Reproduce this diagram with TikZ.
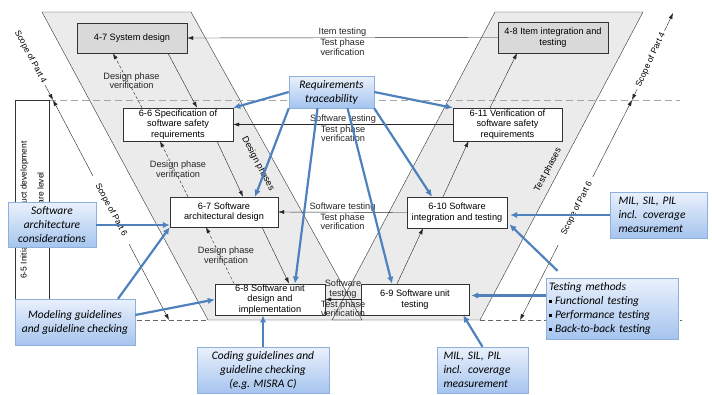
\documentclass[tikz,border=0pt]{standalone}
\usepackage{fontspec}
\setmainfont{Liberation Sans}
\newfontfamily\callfont{Carlito}
\usetikzlibrary{arrows.meta}
\definecolor{bandgray}{HTML}{EBEBEB}
\definecolor{boxgray}{HTML}{D9D9D9}
\definecolor{traceblue}{HTML}{4F81BD}
\definecolor{calltop}{HTML}{EAF1FC}
\definecolor{callbot}{HTML}{A5C4EE}
\definecolor{callline}{HTML}{8DB0DD}
\newcommand{\bul}{\rule[1.5pt]{3pt}{3pt}\hspace{3pt}}
\tikzset{
	vbox/.style={draw=black!80, fill=white, align=center, inner sep=1pt, font=\fontsize{9.2}{10.5}\selectfont},
	lbl/.style={align=center, inner sep=1pt, font=\fontsize{9.2}{9.5}\selectfont},
	scopelbl/.style={inner sep=0pt, font=\fontsize{8.5}{10}\selectfont},
	callout/.style={draw=callline, top color=calltop, bottom color=callbot, align=center, inner sep=3pt, font=\callfont\itshape\fontsize{11.5}{14}\selectfont},
	flow/.style={->, black!85},
	verif/.style={->, black!85, dash pattern=on 3pt off 2pt},
	tracearrow/.style={-{Latex[length=7pt,width=6.5pt]}, traceblue, line width=2.2pt},
	>={Latex[length=6pt,width=4pt]}
}
\begin{document}
\begin{tikzpicture}[x=1pt, y=-1pt]
	\useasboundingbox (0,0) rectangle (712,394);
	% design and test phases
	\fill[bandgray] (42,12) -- (191,12) -- (362,320) -- (208,320) -- cycle;
	\fill[bandgray] (495,12) -- (643,12) -- (480,320) -- (332,320) -- cycle;
	\draw[black!80] (42,12) -- (191,12) -- (362,320) -- (208,320) -- cycle;
	\draw[black!80] (495,12) -- (643,12) -- (480,320) -- (332,320) -- cycle;
	\draw[gray!70, line width=1pt, dash pattern=on 7pt off 4pt] (49,100) -- (680,100);
	\draw[black!60, dash pattern=on 5pt off 3pt] (49,320) -- (208,320) (480,320) -- (682,320);
	\node[draw=black!80, rotate=90, minimum width=220pt, minimum height=34pt, align=center, font=\fontsize{8.5}{17}\selectfont] (initbox) at (32,210) {6-5 Initiation of product development\\at the software level};
	\node[rotate=-62, font=\fontsize{9}{10}\selectfont] (dphases) at (258,164) {Design phases};
	\node[rotate=62, font=\fontsize{9}{10}\selectfont] (tphases) at (548,170) {Test phases};

	% scope arrows
	\coordinate (lscA) at (45,85);
	\coordinate (lscB) at (53,100);
	\coordinate (lscC) at (93,176);
	\coordinate (lscD) at (129,244);
	\coordinate (lscE) at (169,320);
	\node[scopelbl, rotate=-62] (lsc4) at (30.3,57) {Scope of Part 4};
	\node[scopelbl, rotate=-62] (lsc6) at (111,210) {Scope of Part 6};
	\draw[->, black!85] (lscA) -- (lscB);
	\draw[->, black!85] (lscC) -- (lscB);
	\draw[->, black!85] (lscD) -- (lscE);
	\coordinate (rscA) at (664.5,31);
	\coordinate (rscB) at (673,13);
	\coordinate (rscC) at (637.2,89);
	\coordinate (rscD) at (632,100);
	\coordinate (rscE) at (592.8,177);
	\coordinate (rscF) at (558.2,245);
	\coordinate (rscG) at (520,320);
	\node[scopelbl, rotate=65] (rsc4) at (650.8,60) {Scope of Part 4};
	\node[scopelbl, rotate=63] (rsc6) at (577,208) {Scope of Part 6};
	\draw[->, black!85] (rscA) -- (rscB);
	\draw[->, black!85] (rscC) -- (rscD);
	\draw[->, black!85] (rscE) -- (rscD);
	\draw[->, black!85] (rscF) -- (rscG);

	% V-model boxes
	\node[vbox, fill=boxgray, minimum width=110pt, minimum height=30pt] (sysdes) at (132,38) {4-7 System design};
	\node[vbox, fill=boxgray, minimum width=110pt, minimum height=31pt] (itemint) at (553,37.5) {4-8 Item integration and\\testing};
	\node[vbox, minimum width=110pt, minimum height=33pt] (swreq) at (178,124.5) {6-6 Specification of\\software safety\\requirements};
	\node[vbox, minimum width=109pt, minimum height=33pt] (swver) at (507.5,124.5) {6-11 Verification of\\software safety\\requirements};
	\node[vbox, minimum width=108pt, minimum height=30pt] (swarch) at (224,212) {6-7 Software\\architectural design};
	\node[vbox, minimum width=100pt, minimum height=31pt] (swint) at (457,212.5) {6-10 Software\\integration and testing};
	\node[vbox, minimum width=110pt, minimum height=31pt] (swunit) at (270,299.5) {6-8 Software unit\\design and\\implementation};
	\node[vbox, minimum width=108pt, minimum height=31pt] (swtest) at (415,299.5) {6-9 Software unit\\testing};

	% design phase
	\draw[flow] ([xshift=36pt]sysdes.south) -- ([xshift=19pt]swreq.north);
	\draw[flow] ([xshift=39pt]swreq.south) -- ([xshift=19pt]swarch.north);
	\draw[flow] ([xshift=38pt]swarch.south) -- ([xshift=19pt]swunit.north);
	\draw[verif] ([xshift=-36pt]swreq.north) -- ([xshift=-19pt]sysdes.south) node[lbl, midway, xshift=4pt] (dv1) {Design phase\\verification};
	\draw[verif] ([xshift=-36pt]swarch.north) -- ([xshift=-18pt]swreq.south) node[lbl, midway, xshift=4pt] (dv2) {Design phase\\verification};
	\draw[verif] ([xshift=-36pt]swunit.north) -- ([xshift=-18pt]swarch.south) node[lbl, midway, xshift=6pt] (dv3) {Design phase\\verification};

	% test phase
	\draw[flow] ([xshift=-18pt]swtest.north) -- ([xshift=-34pt]swint.south);
	\draw[flow] ([xshift=-14pt]swint.north) -- ([xshift=-39pt]swver.south);
	\draw[flow] ([xshift=-17.5pt]swver.north) -- ([xshift=-36pt]itemint.south);
	\draw[->, black!85] (itemint.west) -- (sysdes.east)
		node[lbl, midway, above] (itt) {Item testing}
		node[lbl, midway, below] (itv) {Test phase\\verification};
	\draw[->, black!85] (swver.west) -- (swreq.east)
		node[lbl, midway, above] (swt1) {Software testing}
		node[lbl, midway, below] (swv1) {Test phase\\verification};
	\draw[->, black!85] (swint.west) -- (swarch.east)
		node[lbl, midway, above] (swt2) {Software testing}
		node[lbl, midway, below] (swv2) {Test phase\\verification};
	\draw[->, black!85] (swtest.west) -- (swunit.east)
		node[lbl, midway, above] (swt3) {Software\\testing}
		node[lbl, midway, below] (swv3) {Test phase\\verification};

	% methods and tools
	\node[callout, minimum width=85pt, minimum height=32pt] (reqtrace) at (331.5,92) {Requirements\\traceability};
	\node[callout, minimum width=88pt, minimum height=45pt] (archcons) at (52,225) {Software\\architecture\\considerations};
	\node[callout, minimum width=120pt, minimum height=46pt] (modguide) at (75,322) {Modeling guidelines\\and guideline checking};
	\node[callout, minimum width=132pt, minimum height=46pt] (codguide) at (263,370) {Coding guidelines and\\guideline checking\\(e.g. MISRA C)};
	\node[callout, align=left, text width=78pt, minimum width=91pt, minimum height=46pt] (milbot) at (482.5,370) {MIL, SIL, PIL\\incl. coverage\\measurement};
	\node[callout, align=left, text width=80pt, minimum width=97pt, minimum height=46pt] (milright) at (658.5,215) {MIL, SIL, PIL\\incl. coverage\\measurement};
	\node[callout, align=left, text width=126pt, minimum width=132pt, minimum height=61pt] (testmeth) at (612,308.5) {Testing methods\\\bul Functional testing\\\bul Performance testing\\\bul Back-to-back testing};

	\draw[tracearrow] (reqtrace.west) -- (swreq.north east);
	\draw[tracearrow] (reqtrace.east) -- (swver.north west);
	\draw[tracearrow] (reqtrace.south west) -- ([xshift=31pt]swarch.north);
	\draw[tracearrow] ([xshift=-14pt]reqtrace.south) -- ([xshift=25pt]swunit.north);
	\draw[tracearrow] ([xshift=16pt]reqtrace.south) -- ([xshift=-23pt]swtest.north);
	\draw[tracearrow] (reqtrace.south east) -- ([xshift=-25pt]swint.north);
	\draw[tracearrow] (archcons.east) -- (swarch.west |- archcons.east);
	\draw[tracearrow] ([xshift=43pt]modguide.north) -- (swarch.south west);
	\draw[tracearrow] ([yshift=7pt]modguide.east) -- (swunit.west);
	\draw[tracearrow] (codguide.north) -- (codguide.north |- swunit.south);
	\draw[tracearrow] (milbot.north) -- ([xshift=-6pt]swtest.south east);
	\draw[tracearrow, shorten >=3pt] (milright.west) -- (swint.east |- milright.west);
	\coordinate (tmtip) at ([yshift=4pt]swtest.east);
	\draw[tracearrow, shorten >=2pt] (testmeth.west |- tmtip) -- (tmtip);
	\draw[tracearrow, shorten <=10pt, shorten >=3pt] ([xshift=19pt]testmeth.north west) -- ([yshift=6pt]swint.south east);
\end{tikzpicture}
\end{document}
